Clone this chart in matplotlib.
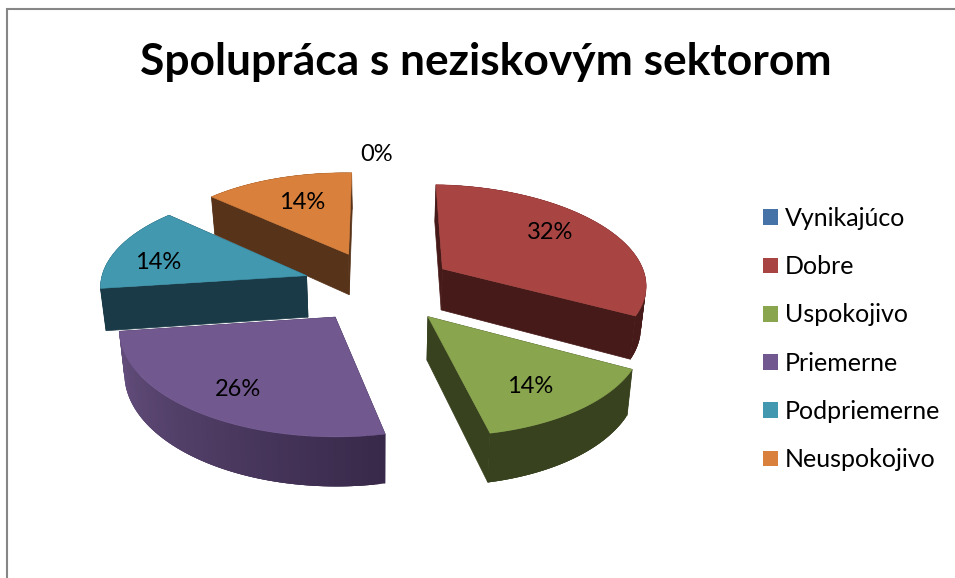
import numpy as np
import matplotlib
matplotlib.use("Agg")
import matplotlib.pyplot as plt
from matplotlib.patches import Polygon, Patch
from matplotlib.colors import to_rgb

title = "Spolupráca s neziskovým sektorom"
categories = ["Vynikajúco", "Dobre", "Uspokojivo", "Priemerne", "Podpriemerne", "Neuspokojivo"]
percent = [0, 32.4, 13.9, 26.1, 14.0, 13.6]

top_colors = ["#4572A7", "#A84543", "#89A54E", "#71588F", "#4198AF", "#D8803C"]
side_start = ["#2A4565", "#461A18", "#38421F", "#38294A", "#1A3A47", "#57331A"]
side_end = ["#2A4565", "#461A18", "#38421F", "#66507F", "#1A3A47", "#57331A"]
radial_colors = ["#2A4565", "#461A18", "#38421F", "#38294A", "#1A3A47", "#57331A"]
label_radius = [1.25, 0.66, 0.78, 0.82, 0.70, 0.56]
label_shift_x = [-2, 1, -13, 13, -16, -5]
label_shift_y = [1.5, -6.5, -1.5, -4.5, 6.5, -7.5]

# projection of the tilted pie into pixels
CX, CY, A, B, K, SHEAR = 379, 286.5, 206, 97.9, 0.1165, 0.015
EXPLODE, DEPTH, SHRINK = 0.37, 42, 0.98


def project(u, v):
    s = 1 + K * v
    x = CX + A * u / s
    y = CY - B * v / s + SHEAR * (A * u / s)
    return x, y


def lower(u, v):
    x, y = project(u, v)
    return CX + (x - CX) * SHRINK, y + DEPTH / (1 + K * v)


fig = plt.figure(figsize=(9.55, 5.78), dpi=100, facecolor="white")
ax = fig.add_axes([0, 0, 1, 1])
ax.set_xlim(0, 955)
ax.set_ylim(578, 0)
ax.axis("off")
FONT = ["Lato", "DejaVu Sans"]

# chart frame
ax.plot([6.5, 6.5, 955], [578, 8.5, 8.5], color="#868686", lw=1.5, solid_joinstyle="miter")

total = sum(percent)
edges = np.cumsum([0] + percent) / total * 2 * np.pi
slices = []
for i, p in enumerate(percent):
    t0, t1 = edges[i], edges[i + 1]
    mid = (t0 + t1) / 2
    ou, ov = EXPLODE * np.sin(mid), EXPLODE * np.cos(mid)
    slices.append((i, t0, t1, mid, ou, ov))

for i, t0, t1, mid, ou, ov in sorted(slices, key=lambda s: -s[5]):
    if percent[i] == 0:
        continue
    th = np.linspace(t0, t1, 70)
    us, vs = ou + np.sin(th), ov + np.cos(th)
    top_arc = [project(u, v) for u, v in zip(us, vs)]
    low_arc = [lower(u, v) for u, v in zip(us, vs)]
    apex_t, apex_b = project(ou, ov), lower(ou, ov)
    # radial faces
    for k in (0, -1):
        ax.add_patch(Polygon([apex_t, top_arc[k], low_arc[k], apex_b], closed=True,
                             fc=radial_colors[i], ec=radial_colors[i], lw=0.5))
    # outer curved face, shaded along the arc; each strip overlaps the next so no seams show
    c0, c1 = np.array(to_rgb(side_start[i])), np.array(to_rgb(side_end[i]))
    for k in range(len(th) - 1):
        c = c0 + (c1 - c0) * k / (len(th) - 2)
        e = min(k + 3, len(th) - 1)
        ax.add_patch(Polygon(top_arc[k:e + 1] + low_arc[k:e + 1][::-1], closed=True, fc=c, ec="none", lw=0))
    # top face
    ax.add_patch(Polygon([apex_t] + top_arc, closed=True, fc=top_colors[i], ec=top_colors[i], lw=0.4))

# percentage labels
for i, t0, t1, mid, ou, ov in slices:
    r = label_radius[i]
    x, y = project(ou + r * np.sin(mid), ov + r * np.cos(mid))
    ax.text(x + label_shift_x[i], y + label_shift_y[i], f"{percent[i]:.0f}%", ha="center", va="center",
            fontsize=17, color="black", family=FONT)

ax.text(486, 62, title, ha="center", va="center", fontsize=31.9, fontweight="bold", color="black", family=FONT)

handles = [Patch(fc=c, ec="none", label=n) for c, n in zip(top_colors, categories)]
ax.legend(handles=handles, loc="upper left", bbox_to_anchor=(763, 207), bbox_transform=ax.transData,
          frameon=False, prop={"family": FONT, "size": 18}, handlelength=0.6, handleheight=0.6,
          handletextpad=0.28, labelspacing=1.01, borderpad=0, borderaxespad=0)

fig.savefig("out.png", dpi=100, facecolor="white")
